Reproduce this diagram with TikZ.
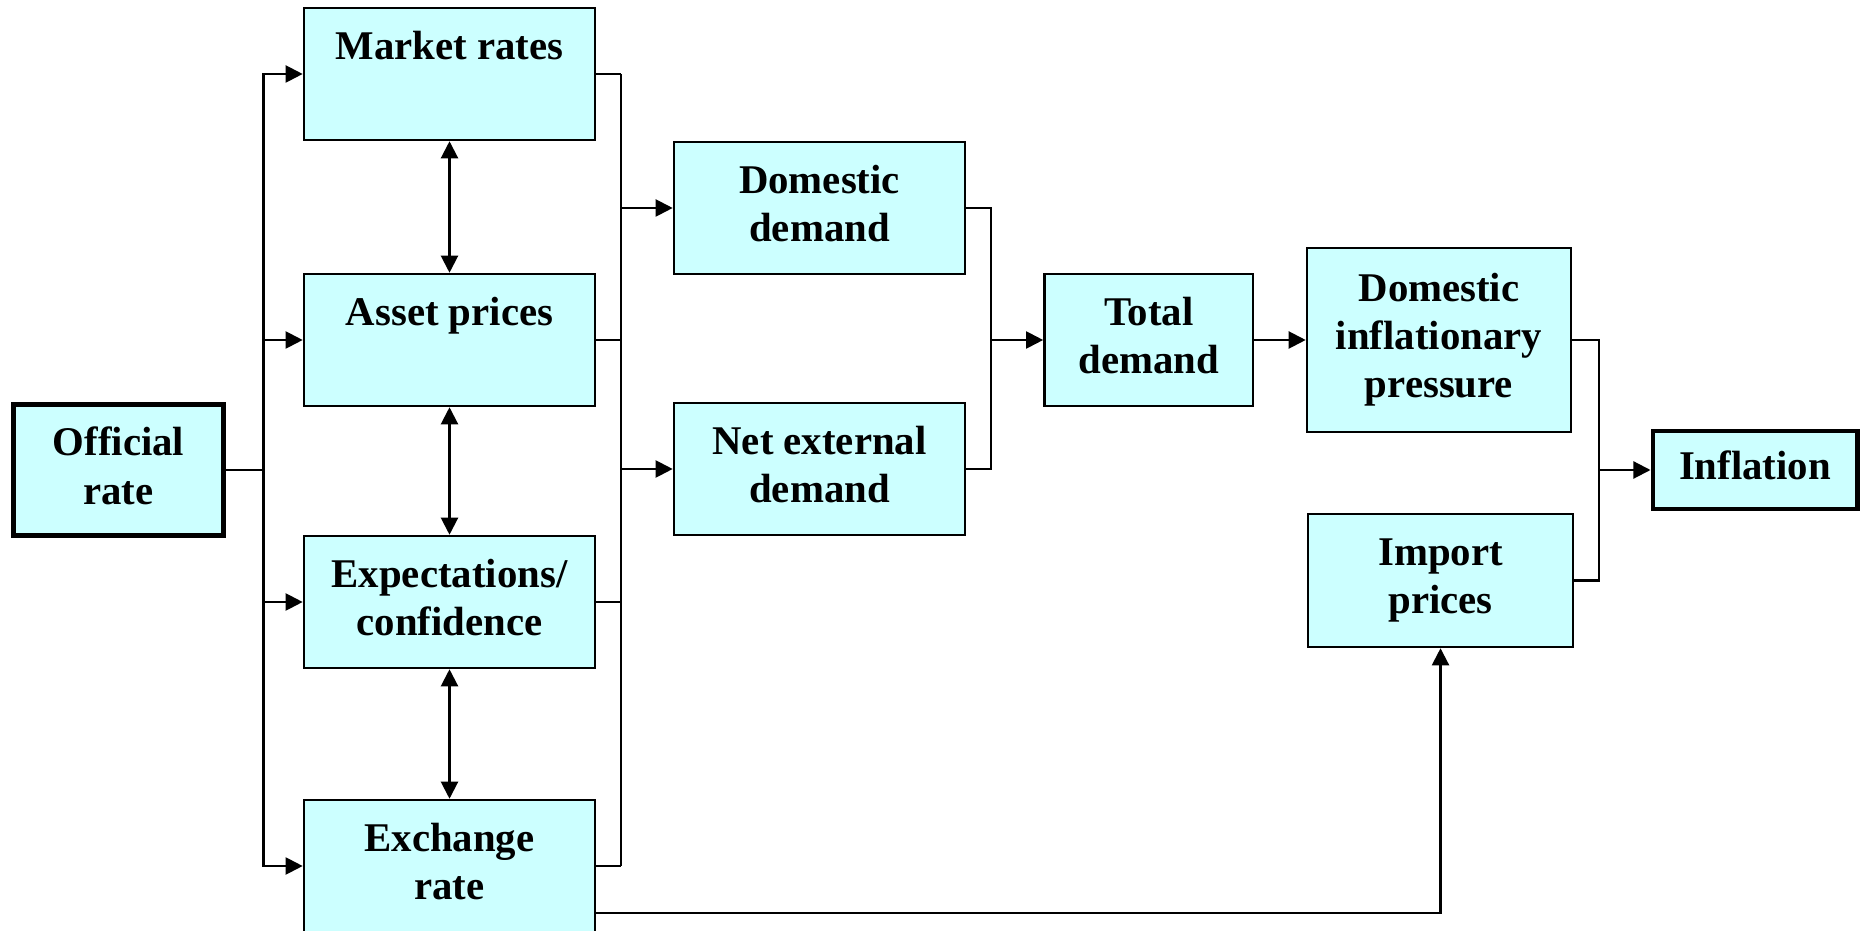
\documentclass[tikz,border=0pt]{standalone}
\usepackage{fontspec}
\setmainfont{Liberation Serif}
\usetikzlibrary{arrows.meta}
\definecolor{boxfill}{HTML}{CCFFFF}

\begin{document}
\begin{tikzpicture}[x=0.01cm, y=-0.01cm,
    box/.style={draw, fill=boxfill, line width=0.7pt, align=center, inner sep=0pt,
      text depth=0.25em, font=\fontsize{11.6}{13.7}\selectfont\bfseries},
    heavybox/.style={box, line width=1.4pt},
    link/.style={line width=0.6pt},
    arr/.style={link, -{Triangle[length=0.17cm,width=0.17cm]}},
    darr/.style={link, {Triangle[length=0.17cm,width=0.17cm]}-{Triangle[length=0.17cm,width=0.17cm]}}]

    % Fix the frame of the page
    \useasboundingbox (0,0) rectangle (1861,931);

    % Sizes of the boxes
    \def\bw{2.91cm}
    \def\bh{1.32cm}

    % Draw the boxes
    \node[heavybox, minimum width=2.09cm, minimum height=1.31cm] (off) at (118.5,470) {Official\\rate};

    \node[box, minimum width=\bw, minimum height=\bh] (mkt) at (449.5,74) {Market rates\\\mbox{}};
    \node[box, minimum width=\bw, minimum height=\bh] (ast) at (449.5,340) {Asset prices\\\mbox{}};
    \node[box, minimum width=\bw, minimum height=\bh] (expc) at (449.5,602) {Expectations/\\confidence};
    \node[box, minimum width=\bw, minimum height=\bh] (exr) at (449.5,866) {Exchange\\rate};

    \node[box, minimum width=\bw, minimum height=\bh] (dd) at (819.5,208) {Domestic\\demand};
    \node[box, minimum width=\bw, minimum height=\bh] (ned) at (819.5,469) {Net external\\demand};

    \node[box, minimum width=2.085cm, minimum height=\bh] (td) at (1148.7,340) {Total\\demand};

    \node[box, minimum width=2.64cm, minimum height=1.84cm] (dip) at (1439,340) {Domestic\\inflationary\\pressure};
    \node[box, minimum width=2.65cm, minimum height=1.33cm] (imp) at (1440.5,580.5) {Import\\prices};

    \node[heavybox, minimum width=2.04cm, minimum height=0.78cm] (inf) at (1755,470) {Inflation};

    % Junction points
    \coordinate (split) at (263.5,470);
    \coordinate (jd) at (620.7,208);
    \coordinate (jn) at (620.7,469);
    \coordinate (jt) at (991,340);
    \coordinate (ji) at (1599,470);

    % Official rate to the four channels
    \draw[link] (off.east) -- (split);
    \foreach \n in {mkt,ast,expc,exr}
        \draw[arr] (split) |- (\n.west);

    % Links inside the channels
    \draw[darr] (mkt.south) -- (ast.north);
    \draw[darr] (ast.south) -- (expc.north);
    \draw[darr] (expc.south) -- (exr.north);

    % Channels to demand
    \foreach \n in {mkt,ast,expc,exr}
        \draw[link] (\n.east) -- (\n.east -| jd);
    \draw[link] (mkt.east -| jd) -- (exr.east -| jd);
    \draw[arr] (jd) -- (dd.west);
    \draw[arr] (jn) -- (ned.west);

    % Demand to total demand
    \draw[link] (dd.east) -| (jt);
    \draw[link] (ned.east) -| (jt);
    \draw[arr] (jt) -- (td.west);
    \draw[arr] (td) -- (dip);

    % Pressures to inflation
    \draw[link] (dip.east) -| (ji);
    \draw[link] (imp.east) -| (ji);
    \draw[arr] (ji) -- (inf.west);

    % Exchange rate to import prices
    \draw[arr] ([yshift=-0.467cm]exr.east) -| (imp.south);
\end{tikzpicture}
\end{document}
